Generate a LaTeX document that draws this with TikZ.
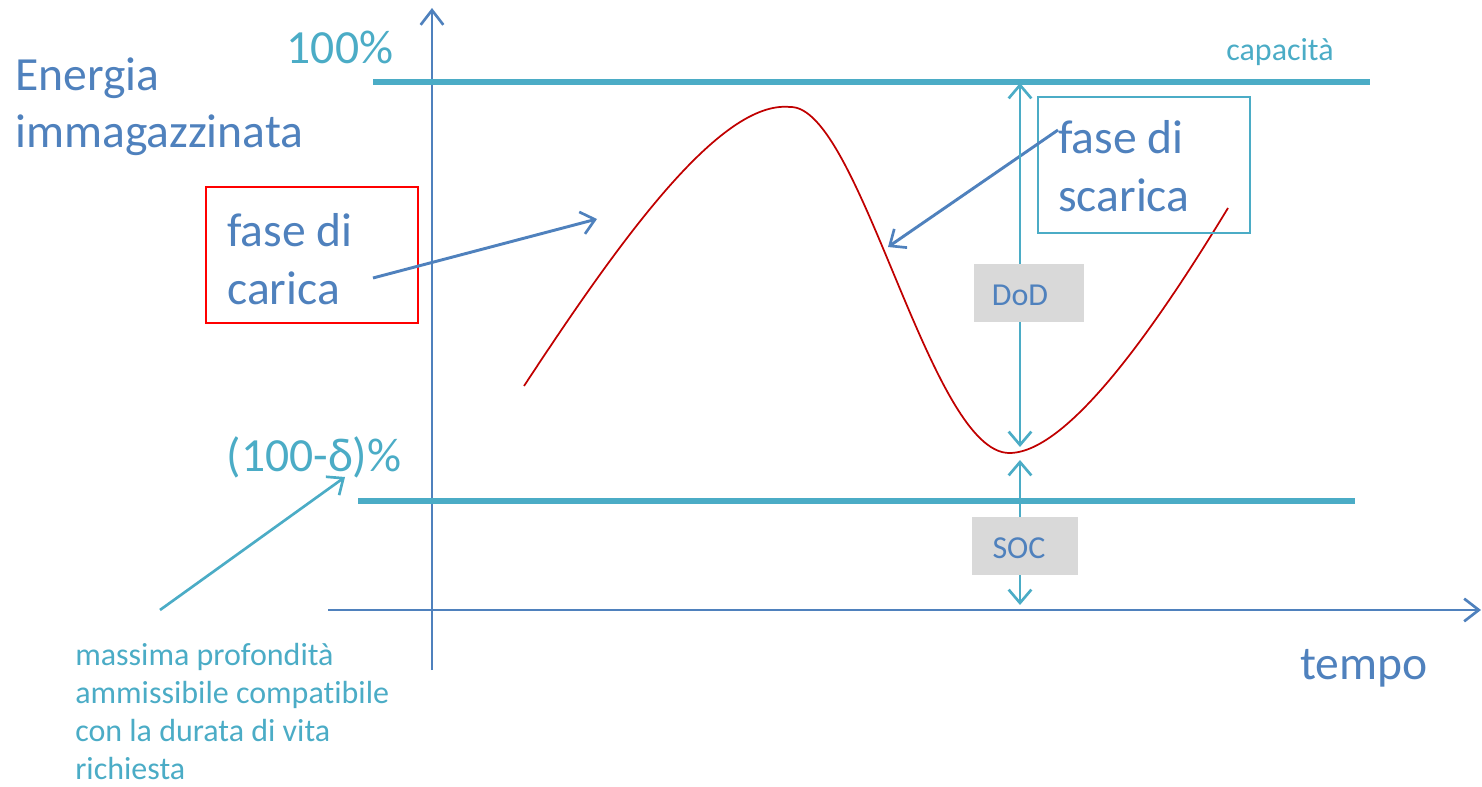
\documentclass[tikz,border=0pt]{standalone}
\usepackage{fontspec}
\setmainfont{Carlito}[RawFeature=-liga]
\usepackage{tikz}
\usetikzlibrary{arrows.meta,calc,positioning}
\definecolor{blu}{HTML}{4F81BD}
\definecolor{turchese}{HTML}{4BACC6}
\definecolor{rosso}{HTML}{C00000}
\definecolor{rossobox}{HTML}{FF0000}
\definecolor{grigio}{HTML}{D9D9D9}
\tikzset{
  asse/.style={draw=blu,line width=2.2pt,-{Straight Barb[length=11pt,width=17pt,line width=2pt]}},
  livello/.style={draw=turchese,line width=3.8pt},
  freccia/.style={draw=blu,line width=2.2pt,-{Straight Barb[length=10pt,width=17pt,line width=2pt]}},
  frecciat/.style={draw=turchese,line width=2pt,-{Straight Barb[length=10pt,width=17pt,line width=2pt]}},
  quota/.style={draw=turchese,line width=2.2pt,{Straight Barb[length=10pt,width=17pt,line width=2pt]}-{Straight Barb[length=10pt,width=17pt,line width=2pt]}},
  grande/.style={font=\fontsize{35.7}{43}\selectfont,inner sep=0pt},
  piccolo/.style={font=\fontsize{24}{28.5}\selectfont,inner sep=0pt},
  etichetta/.style={fill=grigio,minimum width=82pt,minimum height=43pt,inner sep=0pt},
  sigla/.style={text=blu,font=\fontsize{24}{26}\selectfont,inner sep=0pt},
  curva/.style={draw=rosso,line width=1.3pt},
}
\begin{document}
\begin{tikzpicture}[x=0.75pt,y=-0.75pt]
\useasboundingbox (0,0) rectangle (1482,787);
% assi
\coordinate (o1) at (432,670);
\coordinate (o2) at (432,8);
\coordinate (t1) at (328,610);
\coordinate (t2) at (1481,610);
\draw[asse] (o1) -- (o2);
\draw[asse] (t1) -- (t2);
% livelli
\coordinate (c1) at (373,82);
\coordinate (c2) at (1370,82);
\coordinate (d1) at (358,501);
\coordinate (d2) at (1355,501);
\draw[livello] (c1) -- (c2);
\draw[livello] (d1) -- (d2);
% curva
\coordinate (p0) at (524,386);
\coordinate (p1) at (790,107);
\coordinate (p2) at (1010,453);
\coordinate (p3) at (1228,208);
\draw[curva] (p0) .. controls (620,240) and (720,100) .. (p1)
  .. controls (860,105) and (930,455) .. (p2)
  .. controls (1070,452) and (1160,320) .. (p3);
% testi
\node[grande,text=blu,anchor=west,align=left] (energia) at (15,107) {Energia\\immagazzinata};
\node[grande,text=turchese] (cento) at (340,47) {100\%};
\node[grande,text=turchese] (delta) at (314,457) {(100-δ)\%};
\node[piccolo,text=turchese] (capacita) at (1280,52) {capacità};
\node[grande,text=blu] (tempo) at (1364,668) {tempo};
\node[piccolo,text=turchese,anchor=north west,align=left] (massima) at (75,643)
  {massima profondità\\ammissibile compatibile\\con la durata di vita\\richiesta};
% riquadri
\node[draw=rossobox,line width=1.2pt,minimum width=159pt,minimum height=102pt,inner sep=0pt] (carica) at (312,255) {};
\node[grande,text=blu,anchor=west,align=left] at (227,259) {fase di\\carica};
\node[draw=turchese,line width=1.2pt,minimum width=159pt,minimum height=102pt,inner sep=0pt] (scarica) at (1144,165) {};
\node[grande,text=blu,anchor=west,align=left] at (1058,166) {fase di\\scarica};
% frecce
\coordinate (fc) at (597,219);
\coordinate (fs) at (888,247);
\coordinate (fd) at (345,477);
\draw[freccia] (373,278) -- (fc);
\draw[freccia] (1058,130) -- (fs);
\draw[frecciat] (160,610) -- (fd);
% quote
\coordinate (q1) at (1020,83);
\coordinate (q2) at (1020,447);
\coordinate (q3) at (1020,460);
\coordinate (q4) at (1020,605);
\draw[quota] (q1) -- (q2);
\draw[quota] (q3) -- (q4);
\node[etichetta] (dod) at (1029,293) {};
\node[sigla] at (1020,295) {DoD};
\node[etichetta,minimum width=79pt] (soc) at (1025,546) {};
\node[sigla] at (1019,548) {SOC};
\end{tikzpicture}
\end{document}
